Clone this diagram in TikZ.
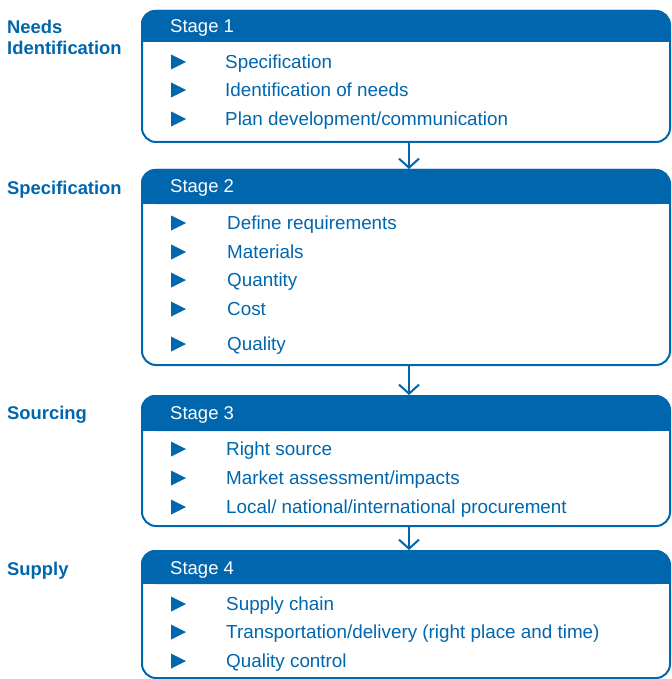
\documentclass[tikz,border=0pt]{standalone}
\usepackage{fontspec}
\setmainfont{Liberation Sans}
\usetikzlibrary{arrows.meta}
\definecolor{pblue}{RGB}{0,102,173}
\tikzset{
  itemtxt/.style={anchor=base west, inner sep=0pt, text=pblue, font=\fontsize{18.85}{22}\selectfont},
  sidetxt/.style={anchor=base west, inner sep=0pt, text=pblue, font=\fontsize{18.4}{22}\selectfont\bfseries},
  headtxt/.style={anchor=base west, inner sep=0pt, text=white, font=\fontsize{18.5}{22}\selectfont},
  stagebox/.style={draw=pblue, line width=2pt, rounded corners=14pt, inner sep=0pt, minimum width=528pt, anchor=north west},
  flowarrow/.style={draw=pblue, line width=2pt, -{Straight Barb[length=9pt,width=20pt,line width=2pt]}},
}
\begin{document}
\begin{tikzpicture}[x=1pt,y=-1pt]
\useasboundingbox (0,0) rectangle (671,679);
% boxes: top, bottom, header bottom
\foreach \n/\t/\b/\h in {1/10/141/42, 2/169/364/204, 3/395/525/431, 4/550/677/584}{
  \fill[pblue, rounded corners=14pt] (141,\t) rectangle (669,\h);
  \fill[pblue] (141,\h-16) rectangle (669,\h);
  \pgfmathsetmacro{\hh}{\b-\t}
  \node[stagebox, minimum height=\hh pt] (s\n) at (141,\t) {};
}
% headers
\node[headtxt] (h1) at (170,32.5) {Stage 1};
\node[headtxt] (h2) at (170,192.5) {Stage 2};
\node[headtxt] (h3) at (170,419.5) {Stage 3};
\node[headtxt] (h4) at (170,574.5) {Stage 4};
% side labels
\node[sidetxt] (l1a) at (7,33.5) {Needs};
\node[sidetxt] (l1b) at (7,54.5) {Identification};
\node[sidetxt] (l2) at (7,194.5) {Specification};
\node[sidetxt] (l3) at (7,419.5) {Sourcing};
\node[sidetxt] (l4) at (7,575.5) {Supply};
% items
\foreach \x/\y/\txt [count=\i] in {
  225/62/{Specification},
  225/90/{Identification of needs},
  225/119/{Plan development/communication},
  227/223/{Define requirements},
  227/252/{Materials},
  227/280/{Quantity},
  227/309/{Cost},
  227/344/{Quality},
  226/449/{Right source},
  226/478/{Market assessment/impacts},
  226/507/{Local/ national/international procurement},
  226/604/{Supply chain},
  226/632/{Transportation/delivery (right place and time)},
  226/661/{Quality control}}{
  \fill[pblue] (171,\y-7.5) -- (186,\y) -- (171,\y+7.5) -- cycle;
  \node[itemtxt] (it\i) at (\x,\y+6.5) {\txt};
}
% connectors
\draw[flowarrow] ([xshift=3pt]s1.south) -- ([xshift=3pt]s2.north);
\draw[flowarrow] ([xshift=3pt]s2.south) -- ([xshift=3pt]s3.north);
\draw[flowarrow] ([xshift=3pt]s3.south) -- ([xshift=3pt]s4.north);
\end{tikzpicture}
\end{document}
